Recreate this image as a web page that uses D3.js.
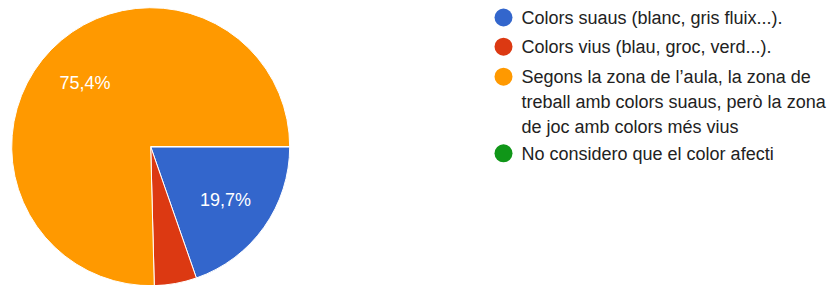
<!DOCTYPE html>
<html><head><meta charset="utf-8">
<script src="https://cdn.jsdelivr.net/npm/d3@7"></script>
<style>html,body{margin:0;padding:0;background:#fff;}svg{display:block;}</style>
</head><body>
<svg id="chart" width="838" height="285"></svg>
<script>
const categories = [
  ["Colors suaus (blanc, gris fluix...)."],
  ["Colors vius (blau, groc, verd...)."],
  ["Segons la zona de l\u2019aula, la zona de", "treball amb colors suaus, però la zona", "de joc amb colors més vius"],
  ["No considero que el color afecti"]
];
const values = [12, 3, 46, 0];
const colors = ["#3366cc", "#dc3912", "#ff9900", "#109618"];

const svg = d3.select("#chart");
const cx = 150.7, cy = 146.7, r = 139;
const total = d3.sum(values);
const pie = d3.pie().sort(null).value(d => d)
  .startAngle(Math.PI / 2).endAngle(Math.PI / 2 + 2 * Math.PI);
const arcs = pie(values);
const arc = d3.arc().innerRadius(0).outerRadius(r);
const g = svg.append("g").attr("transform", `translate(${cx},${cy})`);
g.selectAll("path").data(arcs).join("path")
  .attr("d", arc).attr("fill", (d, i) => colors[i])
  .attr("stroke", "#fff").attr("stroke-width", 1);
const labelArc = d3.arc().innerRadius(r * 0.66).outerRadius(r * 0.66);
g.selectAll("text").data(arcs.filter(d => d.value / total > 0.1)).join("text")
  .attr("transform", d => `translate(${labelArc.centroid(d)})`)
  .attr("text-anchor", "middle").attr("dy", "0.35em")
  .attr("fill", "#fff").attr("font-family", "Arial, 'Liberation Sans', sans-serif")
  .attr("font-size", 18)
  .text(d => (d.value / total * 100).toFixed(1).replace(".", ",") + "%");

const lg = svg.append("g");
const rowY = [17.5, 46.7, 76.7, 153.3];
categories.forEach((lines, i) => {
  lg.append("circle").attr("cx", 503.5).attr("cy", rowY[i]).attr("r", 9).attr("fill", colors[i]);
  const t = lg.append("text").attr("x", 521.5).attr("y", rowY[i] + 6.3)
    .attr("font-family", "Arial, 'Liberation Sans', sans-serif").attr("font-size", 18)
    .attr("fill", "#222");
  lines.forEach((ln, j) => t.append("tspan").attr("x", 521.5).attr("dy", j === 0 ? 0 : 25).text(ln));
});
</script>
</body></html>
